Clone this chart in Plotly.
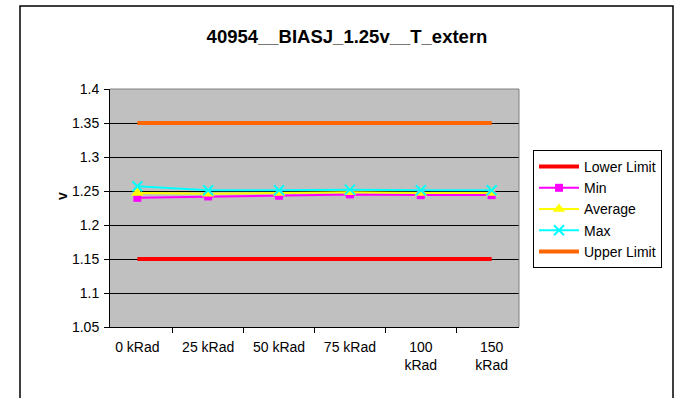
import plotly.graph_objects as go

categories = ["0 kRad", "25 kRad", "50 kRad", "75 kRad", "100<br>kRad", "150<br>kRad"]
lower_limit = [1.15, 1.15, 1.15, 1.15, 1.15, 1.15]
min_vals = [1.240, 1.242, 1.243, 1.245, 1.244, 1.244]
avg_vals = [1.247, 1.246, 1.247, 1.248, 1.247, 1.247]
max_vals = [1.257, 1.251, 1.251, 1.252, 1.251, 1.251]
upper_limit = [1.35, 1.35, 1.35, 1.35, 1.35, 1.35]
y_ticks = [1.05, 1.1, 1.15, 1.2, 1.25, 1.3, 1.35, 1.4]
y_ticklabels = ["1.05", "1.1", "1.15", "1.2", "1.25", "1.3", "1.35", "1.4"]

W, H = 677, 398
FAM = "Arial, Liberation Sans, sans-serif"
font = dict(family=FAM, size=14, color="black")


def px(x):
    return x / W


def py(y):
    return 1 - y / H


fig = go.Figure()
fig.add_trace(go.Scatter(x=categories, y=lower_limit, name="Lower Limit", mode="lines",
                         line=dict(color="#FF0000", width=4)))
fig.add_trace(go.Scatter(x=categories, y=min_vals, name="Min", mode="lines+markers",
                         line=dict(color="#FF00FF", width=2),
                         marker=dict(symbol="square", size=8, color="#FF00FF")))
fig.add_trace(go.Scatter(x=categories, y=avg_vals, name="Average", mode="lines+markers",
                         line=dict(color="#FFFF00", width=2),
                         marker=dict(symbol="triangle-up", size=11, color="#FFFF00")))
fig.add_trace(go.Scatter(x=categories, y=max_vals, name="Max", mode="lines+markers",
                         line=dict(color="#00FFFF", width=2),
                         marker=dict(symbol="x-thin", size=10, color="#00FFFF",
                                     line=dict(color="#00FFFF", width=2))))
fig.add_trace(go.Scatter(x=categories, y=upper_limit, name="Upper Limit", mode="lines",
                         line=dict(color="#FF6600", width=4)))

x0, x1 = px(110), px(519)
y0, y1 = py(327), py(89)

fig.update_layout(
    width=W, height=H,
    margin=dict(l=0, r=0, t=0, b=0),
    paper_bgcolor="white",
    plot_bgcolor="#C0C0C0",
    font=font,
    showlegend=True,
    hovermode=False,
    title=dict(text="<b>40954__BIASJ_1.25v__T_extern</b>", x=px(347), xanchor="center",
               y=py(37), yanchor="middle", font=dict(size=18.5, family=FAM, color="black")),
    xaxis=dict(domain=[x0, x1], type="category", tickson="boundaries", ticks="outside",
               ticklen=5, tickcolor="black", showline=True, linecolor="black", linewidth=1,
               showgrid=False, mirror=False, tickfont=font, automargin=False, fixedrange=True,
               ticklabelstandoff=7),
    yaxis=dict(domain=[y0, y1], range=[1.05, 1.4], tickvals=y_ticks, ticktext=y_ticklabels,
               ticks="outside", ticklen=5, tickcolor="black", showline=True, linecolor="black",
               linewidth=1, showgrid=True, gridcolor="black", gridwidth=1, zeroline=False,
               tickfont=font, automargin=False, fixedrange=True, ticklabelstandoff=2),
    legend=dict(x=px(533), y=py(150), xanchor="left", yanchor="top",
                bgcolor="white", bordercolor="black", borderwidth=1,
                font=font, tracegroupgap=0, itemwidth=40),
    shapes=[
        dict(type="rect", xref="paper", yref="paper", x0=px(20), x1=px(673), y0=-0.1, y1=py(6),
             line=dict(color="black", width=1.5), fillcolor="rgba(0,0,0,0)", layer="below"),
        dict(type="line", xref="paper", yref="paper", x0=x0, x1=x1, y0=y1, y1=y1,
             line=dict(color="#808080", width=1)),
        dict(type="line", xref="paper", yref="paper", x0=x1, x1=x1, y0=y0, y1=y1,
             line=dict(color="#808080", width=1)),
    ],
)
fig.add_annotation(text="<b>v</b>", xref="paper", yref="paper", x=px(52), y=py(196),
                   showarrow=False, textangle=-90, font=dict(size=14, family=FAM, color="black"))

fig.write_html("out.html", config={"displayModeBar": False, "staticPlot": False},
               post_script="document.body.style.margin='0';document.body.style.overflow='hidden';")
